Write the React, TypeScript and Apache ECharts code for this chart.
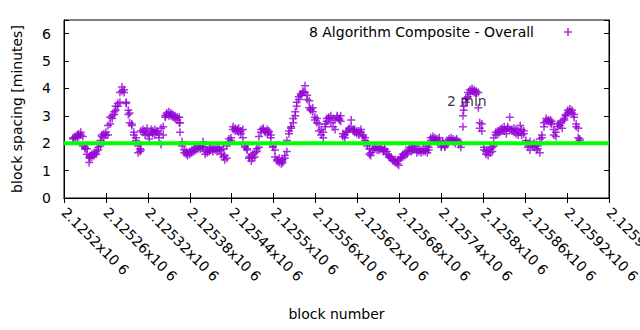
import React, { useEffect, useRef } from 'react';
import * as echarts from 'echarts';

const FONT = "'DejaVu Sans', sans-serif";

// block numbers = blockBase + offset
const blockBase = 2125200;
const blockOffsets = [
  13, 16, 19, 21, 24, 27, 30, 33, 36, 37,
  40, 43, 46, 49, 52, 54, 57, 60, 63, 66,
  69, 72, 74, 77, 80, 83, 86, 89, 92, 94,
  97, 100, 103, 106, 109, 110, 113, 116, 119, 122,
  125, 127, 130, 133, 136, 139, 142, 145, 147, 150,
  153, 156, 159, 162, 165, 166, 169, 172, 175, 177,
  180, 183, 186, 189, 192, 195, 198, 199, 202, 205,
  208, 210, 213, 216, 219, 222, 225, 228, 230, 233,
  236, 239, 242, 245, 248, 250, 253, 256, 259, 262,
  265, 268, 270, 273, 276, 279, 282, 285, 288, 291,
  293, 296, 299, 302, 305, 308, 311, 313, 316, 319,
  322, 325, 328, 331, 333, 336, 339, 342, 345, 348,
  351, 353, 356, 359, 362, 365, 368, 371, 374, 376,
  379, 382, 385, 388, 391, 394, 396, 399, 402, 405,
  408, 411, 414, 416, 419, 422, 425, 428, 431, 434,
  437, 439, 442, 445, 448, 451, 454, 457, 459, 462,
  465, 468, 471, 474, 477, 479, 482, 485, 488, 491,
  494, 497, 499, 502, 505, 508, 511, 514, 517, 520,
  522, 525, 528, 531, 534, 537, 540, 542, 545, 548,
  551, 554, 557, 560, 562, 565, 568, 571, 572, 575,
  578, 581, 584, 587, 590, 593, 595, 598, 601, 604,
  607, 610, 613, 615, 618, 621, 624, 627, 630, 633,
  635, 638, 641, 644, 647, 650, 653, 655, 658, 661,
  664, 667, 670, 673, 676, 678, 681, 684, 687, 690,
  693, 696, 698, 701, 704, 707, 710, 713, 716, 718,
  721, 724, 727, 730, 733, 736, 738,
];
// two readings (minutes) per block position
const spacingFirst = [
  2.2, 2.25, 2.3, 2.35, 2.3, 2.25, 1.85, 1.8, 1.5, 1.45,
  1.6, 1.55, 1.6, 1.75, 1.9, 2.25, 2.35, 2.3, 2.3, 2.7,
  3.0, 3.05, 3.2, 3.45, 3.5, 3.9, 3.95, 3.5, 3.2, 3.1,
  2.7, 2.4, 2.2, 1.9, 1.8, 1.75, 2.5, 2.45, 2.55, 2.3,
  2.4, 2.35, 2.3, 2.4, 2.35, 2.55, 2.6, 2.95, 3.05, 3.0,
  3.1, 2.95, 3.0, 2.95, 2.75, 2.4, 2.05, 1.75, 1.6, 1.65,
  1.7, 1.75, 1.7, 1.75, 1.8, 1.85, 1.9, 2.05, 1.7, 1.75,
  1.8, 1.85, 1.8, 1.75, 1.8, 1.85, 1.6, 1.5, 1.55, 1.45,
  2.05, 2.2, 2.5, 2.55, 2.45, 2.55, 2.45, 2.5, 1.9, 1.8,
  1.5, 1.35, 1.45, 1.5, 1.8, 1.85, 2.4, 2.5, 2.45, 2.5,
  2.4, 2.3, 1.85, 1.75, 1.4, 1.3, 1.35, 1.3, 1.45, 1.7,
  2.35, 2.55, 2.75, 3.0, 3.35, 3.6, 3.8, 3.85, 4.1, 3.75,
  3.55, 3.25, 3.15, 2.95, 2.9, 2.7, 2.5, 2.4, 2.6, 2.8,
  2.9, 3.0, 2.9, 2.5, 2.95, 2.85, 3.0, 2.35, 2.3, 2.4,
  2.5, 2.85, 2.5, 2.4, 2.45, 2.3, 2.5, 2.25, 2.2, 2.0,
  1.8, 1.55, 1.75, 1.85, 1.75, 1.8, 1.85, 1.75, 1.8, 1.7,
  1.55, 1.45, 1.4, 1.3, 1.25, 1.2, 1.45, 1.5, 1.55, 1.7,
  1.75, 1.8, 1.85, 1.9, 1.75, 1.7, 1.75, 1.8, 1.7, 1.65,
  1.75, 2.1, 2.15, 2.2, 2.15, 2.1, 1.85, 2.05, 1.9, 1.95,
  2.15, 2.1, 2.05, 2.1, 2.15, 2.05, 2.0, 2.6, 3.2, 3.5,
  3.7, 3.8, 3.9, 3.85, 3.9, 3.85, 2.75, 2.45, 1.85, 1.6,
  1.55, 1.65, 1.7, 1.9, 2.3, 2.45, 2.5, 2.55, 2.45, 2.5,
  2.55, 2.95, 2.5, 2.4, 2.5, 2.3, 2.4, 2.5, 2.35, 2.1,
  1.95, 2.05, 1.9, 1.85, 1.95, 1.8, 1.65, 2.2, 2.6, 2.8,
  2.85, 2.75, 2.8, 2.5, 2.25, 2.6, 2.65, 2.8, 2.85, 3.0,
  3.1, 3.15, 3.1, 3.05, 2.7, 2.55, 2.15,
];
const spacingSecond = [
  2.15, 2.2, 2.2, 2.25, 2.4, 1.9, 1.8, 1.6, 1.3, 1.55,
  1.5, 1.65, 1.7, 1.85, 2.1, 2.3, 2.2, 2.4, 2.65, 2.95,
  2.9, 3.15, 3.35, 3.35, 3.85, 4.05, 3.85, 3.45, 3.05, 2.75,
  2.65, 2.3, 2.1, 1.65, 1.7, 2.45, 2.4, 2.3, 2.35, 2.15,
  2.5, 2.45, 2.5, 2.45, 2.2, 1.95, 2.3, 3.0, 3.1, 3.15,
  3.0, 3.05, 2.9, 2.85, 2.95, 2.75, 1.9, 1.65, 1.7, 1.55,
  1.6, 1.65, 1.8, 1.85, 1.9, 1.8, 1.85, 1.85, 1.6, 1.65,
  1.7, 1.75, 1.7, 1.85, 1.7, 1.75, 1.75, 1.8, 1.4, 1.9,
  2.15, 2.1, 2.6, 2.45, 2.5, 2.4, 2.35, 2.2, 1.85, 1.75,
  1.45, 1.55, 1.6, 1.65, 1.7, 2.25, 2.5, 2.55, 2.4, 2.35,
  2.45, 2.2, 1.9, 1.5, 1.35, 1.45, 1.25, 1.4, 1.55, 2.1,
  2.45, 2.6, 2.9, 3.15, 3.5, 3.7, 3.75, 3.9, 3.85, 3.6,
  3.3, 3.2, 3.3, 2.85, 2.75, 2.45, 2.3, 2.2, 2.7, 2.9,
  2.95, 2.75, 2.6, 2.85, 3.0, 2.9, 2.8, 2.25, 2.2, 2.45,
  2.55, 2.6, 2.45, 2.5, 2.35, 2.45, 2.4, 2.3, 2.1, 1.9,
  1.6, 1.65, 1.8, 1.8, 1.85, 1.75, 1.8, 1.7, 1.75, 1.6,
  1.5, 1.5, 1.35, 1.4, 1.35, 1.4, 1.5, 1.6, 1.65, 1.6,
  1.85, 1.7, 1.75, 1.8, 1.65, 1.8, 1.65, 1.7, 1.75, 1.9,
  1.85, 2.2, 2.25, 2.1, 2.05, 2.2, 1.9, 1.95, 1.85, 2.1,
  2.05, 2.2, 2.15, 2.0, 2.1, 1.95, 1.85, 3.0, 3.35, 3.65,
  3.85, 3.95, 4.0, 3.95, 3.8, 3.3, 2.55, 2.7, 1.75, 1.7,
  1.75, 1.8, 1.85, 2.2, 2.4, 2.35, 2.4, 2.45, 2.6, 2.35,
  2.6, 2.5, 2.45, 2.55, 2.35, 2.45, 2.65, 2.3, 2.45, 2.0,
  1.85, 1.75, 1.95, 2.0, 1.75, 1.9, 2.15, 2.3, 2.75, 2.9,
  2.8, 2.85, 2.7, 2.3, 2.4, 2.7, 2.75, 2.55, 2.9, 3.05,
  3.2, 3.25, 3.2, 2.95, 2.6, 2.2, 2.1,
];

const xMin = 2125200;
const xMax = 2125980;
const xStep = 60;
const yMin = 0;
const yMax = 6.5;
const yStep = 1;
const targetMinutes = 2;
const seriesName = '8 Algorithm Composite - Overall';
const annotationText = '2 min';
const annotationAt = [2125748, 3.54];

const PLUS = 'path://M6.5,0H9.5V6.5H16V9.5H9.5V16H6.5V9.5H0V6.5H6.5Z';

function fmtBlock(v: number) {
  const s = parseFloat((v / 1e6).toFixed(6)).toString();
  return s + 'x10 6';
}

export default function App() {
  const ref = useRef<HTMLDivElement>(null);
  useEffect(() => {
    document.body.style.margin = '0';
    if (!ref.current) return;
    const chart = echarts.init(ref.current, undefined, { renderer: 'svg' });
    const points: number[][] = [];
    blockOffsets.forEach((o, i) => {
      points.push([blockBase + o, spacingFirst[i]]);
      points.push([blockBase + o, spacingSecond[i]]);
    });
    const axisLine = { show: true, lineStyle: { color: '#000', width: 1 } };
    const axisTick = { show: true, inside: true, length: 5, lineStyle: { color: '#000', width: 1 } };
    chart.setOption({
      animation: false,
      textStyle: { fontFamily: FONT },
      grid: {
        left: 64, top: 20, right: 31, bottom: 132, show: true, borderColor: '#000', borderWidth: 1,
        containLabel: false, outerBoundsMode: 'none',
      },
      legend: {
        data: [{ name: seriesName, icon: PLUS }],
        right: 68,
        top: 25,
        padding: 0,
        align: 'right',
        itemWidth: 58,
        itemHeight: 8,
        symbolKeepAspect: true,
        textStyle: { fontSize: 14, color: '#000', fontFamily: FONT },
      },
      xAxis: [
        {
          type: 'value', min: xMin, max: xMax, interval: xStep, position: 'bottom',
          axisLine, axisTick, splitLine: { show: false },
          axisLabel: {
            rotate: -45, margin: 12, fontSize: 14, color: '#000', fontFamily: FONT,
            formatter: fmtBlock, showMinLabel: true, showMaxLabel: true,
          },
          name: 'block number', nameLocation: 'middle', nameGap: 109,
          nameTextStyle: { fontSize: 14, color: '#000', fontFamily: FONT },
        },
        {
          type: 'value', min: xMin, max: xMax, interval: xStep, position: 'top',
          axisLine, axisTick, splitLine: { show: false }, axisLabel: { show: false },
        },
      ],
      yAxis: [
        {
          type: 'value', min: yMin, max: yMax, interval: yStep, position: 'left',
          axisLine, axisTick, splitLine: { show: false },
          axisLabel: {
            margin: 13, fontSize: 14, color: '#000', fontFamily: FONT,
            formatter: (v: number) => (Number.isInteger(v) ? String(v) : ''),
          },
          name: 'block spacing [minutes]', nameLocation: 'middle', nameGap: 40,
          nameTextStyle: { fontSize: 14, color: '#000', fontFamily: FONT },
        },
        {
          type: 'value', min: yMin, max: yMax, interval: yStep, position: 'right',
          axisLine, axisTick, splitLine: { show: false }, axisLabel: { show: false },
        },
      ],
      series: [
        {
          type: 'scatter', name: seriesName, data: points, symbol: PLUS, symbolSize: 8,
          itemStyle: { color: '#9400d3' }, z: 2,
        },
        {
          type: 'line', name: 'target', data: [[xMin, targetMinutes], [xMax, targetMinutes]],
          symbol: 'none', lineStyle: { color: '#00ff00', width: 4, cap: 'butt' }, z: 3, silent: true,
        },
        {
          type: 'scatter', name: 'annotation', data: [annotationAt], symbolSize: 0, z: 4, silent: true,
          label: {
            show: true, formatter: annotationText, position: 'right', distance: 0,
            fontSize: 14, color: '#000', fontFamily: FONT,
          },
        },
      ],
    });
    return () => chart.dispose();
  }, []);
  return <div ref={ref} style={{ width: 640, height: 330 }} />;
}
